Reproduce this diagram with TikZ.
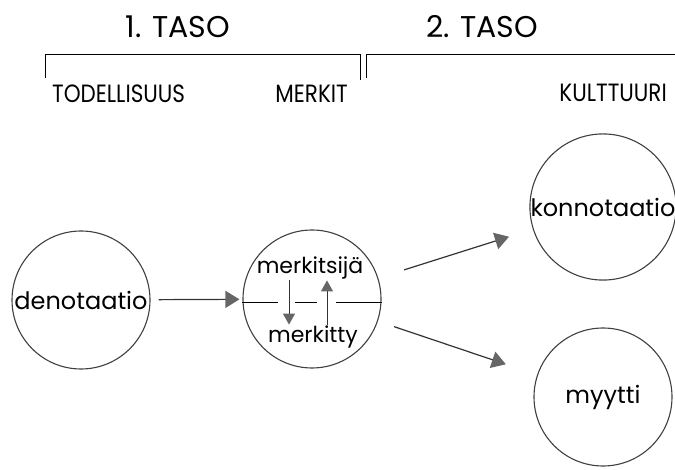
\documentclass[tikz,border=0pt]{standalone}
\usepackage{fontspec}
\usepackage{graphicx}
\setmainfont{Poppins}
\usetikzlibrary{arrows.meta,calc}

\newcommand{\kapea}[1]{\scalebox{0.86}[1]{#1}}

\begin{document}
\begin{tikzpicture}[x=1pt, y=-1pt,
  every node/.style={inner sep=1pt},
  circ/.style={draw=black!75, line width=1.1pt, circle, inner sep=0pt, minimum size=138pt, font=\fontsize{24}{26}\selectfont},
  head/.style={font=\fontsize{30}{32}\selectfont},
  lbl/.style={font=\fontsize{25}{27}\selectfont},
  bigarr/.style={-{Triangle[length=14pt, width=17pt, color=black!60]}, line width=1.2pt, draw=black!80},
  smallarr/.style={-{Triangle[length=11pt, width=12pt, color=black!60]}, line width=1pt, draw=black!80}]
  \useasboundingbox (0,0) rectangle (675,470);

  % otsikot
  \node[head] (taso1) at (178,27) {1. TASO};
  \node[head] (taso2) at (482,27) {2. TASO};
  \draw[line width=0.8pt] (45,78) -- (45,54) -- (360,54) -- (360,80);
  \draw[line width=0.8pt] (366,78) -- (366,54) -- (680,54);
  \node[lbl, anchor=west] (todell) at (51,94) {\kapea{TODELLISUUS}};
  \node[lbl, anchor=east] (merkit) at (349,94) {\kapea{MERKIT}};
  \node[lbl, anchor=east] (kulttuuri) at (668,93) {\kapea{KULTTUURI}};

  % ympyrat
  \node[circ] (denot) at (81,300) {denotaatio};
  \node[circ] (merk) at (312,299) {};
  \node[circ] (konn) at (603,207) {konnotaatio};
  \node[circ] (myytti) at (603,397) {myytti};

  % merkki
  \node[font=\fontsize{22}{24}\selectfont] (sija) at (310,268) {merkitsijä};
  \node[font=\fontsize{22}{24}\selectfont] (tty) at (313,337) {merkitty};
  \draw[line width=1pt] (merk.west |- 0,303) -- (278,303);
  \draw[line width=1pt] (295,303) -- (317,303);
  \draw[line width=1pt] (336,303) -- (merk.east |- 0,303);
  \draw[smallarr] (sija.south -| 289,0) -- (tty.north -| 289,0);
  \draw[smallarr] (tty.north -| 327,0) -- (sija.south -| 327,0);

  \draw[bigarr, shorten <=8pt, shorten >=3pt] (denot) -- (merk);
  \draw[bigarr, shorten <=27pt, shorten >=25pt] (merk) -- (konn);
  \draw[bigarr, shorten <=17pt, shorten >=33pt] (merk) -- (myytti);
\end{tikzpicture}
\end{document}
